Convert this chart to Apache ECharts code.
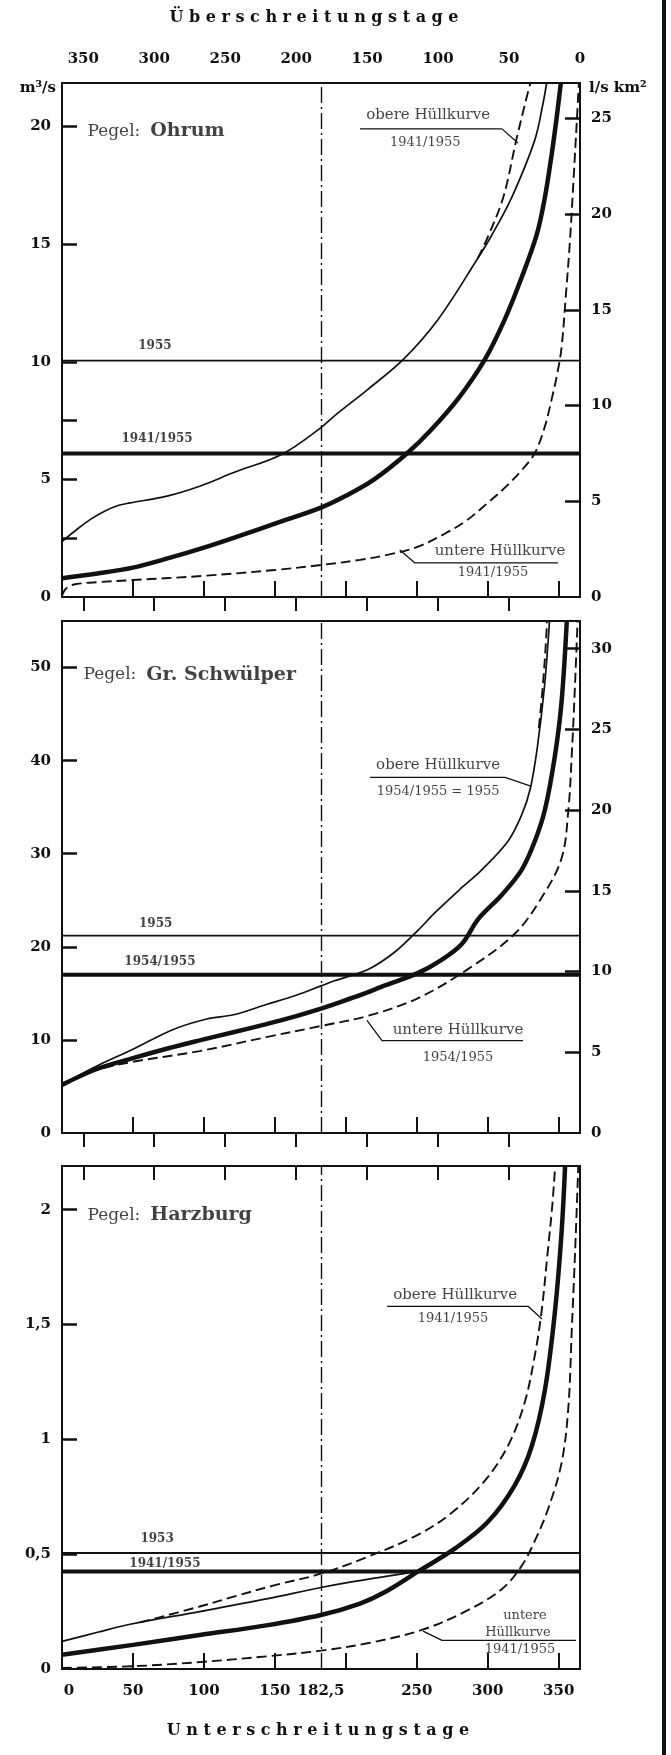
<!DOCTYPE html>
<html>
<head>
<meta charset="utf-8">
<script src="https://cdn.jsdelivr.net/npm/echarts@6/dist/echarts.min.js"></script>
<style>
  html, body { margin: 0; padding: 0; background: #fff; }
  #chart { width: 671px; height: 1755px; }
</style>
</head>
<body>
<div id="chart"></div>
<script>
// Abflussdauerlinien der Oker: Pegel Ohrum, Gr. Schwülper, Harzburg
// x = Unterschreitungstage (0 … 365), y = Abfluss in m³/s

const YEAR_DAYS = 365;
const MEDIAN_DAY = 182.5;
const DAY_TICKS = [50, 100, 150, 200, 250, 300, 350];
const DAY_LABELS_BOTTOM = [0, 50, 100, 150, 182.5, 250, 300, 350];
const DAY_LABELS_TOP = [0, 50, 100, 150, 200, 250, 300, 350];

const stations = ['Ohrum', 'Gr. Schwülper', 'Harzburg'];
const catchmentKm2 = [814, 1734, null];
const yMax = [21.85, 55, 2.19];
const leftTicks = [[2.5, 5, 7.5, 10, 15, 20], [10, 20, 30, 40, 50], [0.5, 1, 1.5, 2]];
const leftLabels = [[0, 5, 10, 15, 20], [0, 10, 20, 30, 40, 50], [0, 0.5, 1, 1.5, 2]];
const rightTicks = [[5, 10, 15, 20, 25], [5, 10, 15, 20, 25, 30], []];
const rightLabels = [[0, 5, 10, 15, 20, 25], [0, 5, 10, 15, 20, 25, 30], []];

// Mittelwasser (MQ): Einzeljahr und Reihe
const mqYearName = ['1955', '1955', '1953'];
const mqYear = [10.05, 21.2, 0.505];
const mqPeriodName = ['1941/1955', '1954/1955', '1941/1955'];
const mqPeriod = [6.1, 17.0, 0.425];

// Dauerlinien [Tag, m³/s]
const ohrumMean = [[0,0.8],[25,1.0],[50,1.25],[75,1.65],[100,2.1],[125,2.6],[150,3.12],[182.5,3.8],[200,4.3],[220,5.0],[243,6.1],[260,7.1],[280,8.5],[298,10.1],[312,11.8],[324,13.6],[334.5,15.4],[340,16.9],[345,18.8],[348.6,20.4],[351.5,21.85]];
const ohrumYear = [[0,2.36],[10,2.85],[20,3.3],[30,3.65],[40,3.9],[48,4.0],[74,4.29],[97,4.71],[121,5.29],[155,6.07],[182.5,7.2],[192,7.7],[216,8.85],[240.5,10.1],[265,11.8],[293,14.4],[303,15.4],[317,17.0],[333,19.4],[339,21.0],[341.5,21.85]];
const ohrumUpper = [[293,14.4],[300,15.3],[311,17.0],[320,19.4],[326,20.9],[330,21.85]];
const ohrumLower = [[0,0.05],[2,0.3],[5,0.45],[10,0.55],[25,0.63],[50,0.72],[100,0.9],[150,1.15],[182.5,1.36],[210,1.58],[230,1.8],[250,2.12],[270,2.7],[285,3.25],[300,4.0],[313,4.7],[324,5.4],[333,6.1],[340,7.2],[345,8.4],[349,9.5],[352,10.6],[355,12.8],[358,15.2],[360.5,17.8],[363,20.5],[364.2,21.85]];

const schwMean = [[0,5.17],[25,6.9],[50,8.04],[75,9.1],[97,9.95],[120,10.8],[144,11.7],[165,12.55],[182.5,13.35],[192,13.85],[210,14.8],[227.6,15.85],[251,17.2],[267.5,18.6],[281.7,20.3],[293.4,23.0],[310,25.6],[324,28.3],[333.3,31.4],[340.4,34.8],[347.4,40.6],[352,46.3],[355.7,55]];
const schwYear = [[0,5.17],[12,6.2],[26,7.3],[50,9.0],[78,11.1],[102,12.25],[121,12.7],[144,13.8],[165,14.8],[182.5,15.8],[192,16.35],[216,17.6],[235,19.5],[251,21.8],[263,23.7],[282,26.4],[296,28.3],[314.5,31.4],[324,34.2],[330,37.0],[335,41.5],[340,48.0],[343.5,55]];
const schwUpper = [[336,43.5],[338.5,47.5],[340.5,51.5],[341.8,55]];
const schwLower = [[0,5.17],[25,6.8],[50,7.65],[97,8.8],[144,10.3],[182.5,11.5],[216,12.6],[251,14.5],[286,17.6],[319,21.4],[338,25.3],[352,29.5],[356.8,34.7],[359.2,40.6],[361.5,48.2],[363.3,55]];

const harzMean = [[0,0.062],[50,0.105],[97,0.148],[144,0.19],[182.5,0.235],[210,0.285],[227.6,0.335],[251,0.425],[277,0.525],[300,0.64],[319,0.80],[331,0.97],[340.4,1.22],[347.4,1.56],[352,1.90],[354.5,2.19]];
const harzYear = [[0,0.12],[25,0.16],[48,0.195],[97,0.25],[144,0.305],[182.5,0.355],[200,0.375],[225,0.40],[251,0.425]];
const harzUpper = [[55,0.203],[97,0.272],[121,0.315],[150,0.365],[182.5,0.415],[216,0.49],[251,0.585],[274.6,0.68],[298,0.82],[314.5,0.975],[326,1.16],[333.3,1.37],[338,1.56],[342,1.80],[345.5,2.02],[347.5,2.19]];
const harzLower = [[0,0.005],[50,0.012],[97,0.03],[144,0.055],[182.5,0.08],[216,0.113],[253.5,0.17],[286,0.256],[310,0.348],[324,0.45],[333.3,0.56],[342.7,0.70],[352.1,0.90],[356.8,1.14],[359.2,1.475],[361.5,1.81],[363.8,2.19]];

const curves = [
  { mean: ohrumMean, year: ohrumYear, upper: ohrumUpper, lower: ohrumLower },
  { mean: schwMean,  year: schwYear,  upper: schwUpper,  lower: schwLower },
  { mean: harzMean,  year: harzYear,  upper: harzUpper,  lower: harzLower }
];

// Beschriftungen der Hüllkurven [Tag, m³/s, Text, Schrift]
const notes = [
  [[258, 20.5, 'obere Hüllkurve', 'big'], [256, 19.3, '1941/1955', 'small'],
   [308.6, 1.96, 'untere Hüllkurve', 'big'], [303.7, 1.02, '1941/1955', 'small']],
  [[265, 39.55, 'obere Hüllkurve', 'big'], [265, 36.7, '1954/1955 = 1955', 'small'],
   [279, 11.06, 'untere Hüllkurve', 'big'], [279, 8.09, '1954/1955', 'small']],
  [[277, 1.629, 'obere Hüllkurve', 'big'], [275.5, 1.524, '1941/1955', 'small'],
   [326.2, 0.2305, 'untere', 'small'], [321.3, 0.160, 'Hüllkurve', 'small'], [322.7, 0.085, '1941/1955', 'small']]
];
// Hinweislinien [Tag, m³/s]
const leaders = [
  [[[210, 19.9], [310, 19.9], [321.3, 19.3]], [[238, 2.0], [248.7, 1.45], [349.5, 1.45]]],
  [[[217, 38.2], [312.2, 38.2], [329.8, 37.3]], [[214.9, 12.1], [225.5, 9.92], [324.8, 9.92]]],
  [[[229, 1.579], [328.4, 1.579], [338.2, 1.524]], [[254.4, 0.165], [267.8, 0.125], [362.2, 0.125]]]
];
// Lage der Pegelnamen und MQ-Beschriftungen
const pegelPos = [[17.6, 19.8], [14.8, 49.2], [17.6, 1.975]];
const mqYearLabelDay = [65.5, 66, 67];
const mqPeriodLabelDay = [67, 69, 72.5];
const mqYearLabelGap = [8, 5, 8];
const mqPeriodLabelGap = [8, 6, 1];

const INK = '#111';
const FONT = '"DejaVu Serif", "Liberation Serif", serif';
const GRID_POS = [{ top: 83, height: 514 }, { top: 621, height: 512 }, { top: 1166, height: 503 }];
const fmt = v => String(v).replace('.', ',');
const spaced = s => Array.from(s).join('\u2008');
const tickFont = { fontFamily: FONT, fontWeight: 'bold', fontSize: 15, color: INK };

const grids = [], xAxes = [], yAxes = [], series = [];
const leftIdx = [];

for (let g = 0; g < 3; g++) {
  grids.push({ left: 62, right: 91, top: GRID_POS[g].top, height: GRID_POS[g].height,
    show: true, borderWidth: 2, borderColor: INK, backgroundColor: 'transparent' });

  // Unterschreitungstage (unten); die Null steht etwas eingerückt
  xAxes.push({ type: 'value', gridIndex: g, position: 'bottom', min: 0, max: YEAR_DAYS,
    axisLine: { show: false }, splitLine: { show: false },
    axisTick: { show: true, inside: true, length: 16, customValues: DAY_TICKS, lineStyle: { color: INK, width: 2 } },
    axisLabel: { show: g === 2, customValues: DAY_LABELS_BOTTOM, margin: 15, ...tickFont,
      formatter: v => v === 0 ? '{z|0}' : fmt(v),
      rich: { z: { ...tickFont, padding: [0, 0, 0, 14] } } } });
  // Überschreitungstage (oben, gegenläufig)
  xAxes.push({ type: 'value', gridIndex: g, position: 'top', inverse: true, min: 0, max: YEAR_DAYS,
    axisLine: { show: false }, splitLine: { show: false },
    axisTick: { show: true, inside: true, length: 14, customValues: DAY_TICKS, lineStyle: { color: INK, width: 2 } },
    axisLabel: { show: g === 0, customValues: DAY_LABELS_TOP, formatter: fmt, margin: 16, ...tickFont } });

  leftIdx.push(yAxes.length);
  yAxes.push({ type: 'value', gridIndex: g, position: 'left', min: 0, max: yMax[g],
    axisLine: { show: false }, splitLine: { show: false },
    axisTick: { show: true, inside: true, length: 15, customValues: leftTicks[g], lineStyle: { color: INK, width: 2.5 } },
    axisLabel: { customValues: leftLabels[g], formatter: fmt, margin: 11, ...tickFont } });
  if (catchmentKm2[g]) {
    // Abflussspende l/(s·km²) = 1000 · Q / A
    yAxes.push({ type: 'value', gridIndex: g, position: 'right', min: 0, max: yMax[g] * 1000 / catchmentKm2[g],
      axisLine: { show: false }, splitLine: { show: false },
      axisTick: { show: true, inside: true, length: 15, customValues: rightTicks[g], lineStyle: { color: INK, width: 2.5 } },
      axisLabel: { customValues: rightLabels[g], formatter: fmt, margin: 11, ...tickFont } });
  }
}

const STYLE = {
  mean:    { width: 4.5, type: 'solid' },
  year:    { width: 1.7, type: 'solid' },
  env:     { width: 1.9, type: [10, 5] },
  mqYear:  { width: 1.8, type: 'solid' },
  mqPer:   { width: 4,   type: 'solid' },
  leader:  { width: 1.3, type: 'solid' }
};

function line(g, data, st, smooth, z, extra) {
  return Object.assign({
    type: 'line', xAxisIndex: 2 * g, yAxisIndex: leftIdx[g], data,
    symbol: 'none', showSymbol: false, silent: true, animation: false, clip: true,
    smooth: smooth ? 0.35 : false,
    lineStyle: { color: INK, width: st.width, type: st.type, cap: 'butt' }, z
  }, extra || {});
}

const noteFont = {
  big:   { fontFamily: FONT, fontSize: 15, fontWeight: 'normal', color: INK },
  small: { fontFamily: FONT, fontSize: 13, fontWeight: 'normal', color: INK }
};

for (let g = 0; g < 3; g++) {
  const c = curves[g];
  series.push(line(g, [[0, mqYear[g]], [YEAR_DAYS, mqYear[g]]], STYLE.mqYear, false, 2));
  series.push(line(g, [[0, mqPeriod[g]], [YEAR_DAYS, mqPeriod[g]]], STYLE.mqPer, false, 2, {
    markLine: { silent: true, animation: false, symbol: ['none', 'none'], label: { show: false },
      lineStyle: { color: INK, width: 1.4, type: [16, 4, 2, 4] }, data: [{ xAxis: MEDIAN_DAY }] }
  }));
  series.push(line(g, c.lower, STYLE.env, true, 3));
  if (c.upper) series.push(line(g, c.upper, STYLE.env, true, 3));
  series.push(line(g, c.year, STYLE.year, true, 4));
  series.push(line(g, c.mean, STYLE.mean, true, 5));
  leaders[g].forEach(pts => series.push(line(g, pts, STYLE.leader, false, 6)));

  const items = [];
  items.push({ value: pegelPos[g], label: { show: true, position: 'right', distance: 0,
    backgroundColor: '#fff',
    formatter: '{a|Pegel:}{b|' + stations[g] + '}',
    rich: { a: { fontFamily: FONT, fontSize: 17, color: INK },
            b: { fontFamily: FONT, fontSize: 19, fontWeight: 'bold', color: INK, padding: [0, 0, 0, 10] } } } });
  items.push({ value: [mqYearLabelDay[g], mqYear[g]], label: { show: true, position: 'top', distance: mqYearLabelGap[g],
    formatter: mqYearName[g], fontFamily: FONT, fontSize: 12, fontWeight: 'bold', color: INK } });
  items.push({ value: [mqPeriodLabelDay[g], mqPeriod[g]], label: { show: true, position: 'top', distance: mqPeriodLabelGap[g],
    formatter: mqPeriodName[g], fontFamily: FONT, fontSize: 12, fontWeight: 'bold', color: INK } });
  notes[g].forEach(n => items.push({ value: [n[0], n[1]], label: Object.assign({ show: true, position: 'inside', formatter: n[2] }, noteFont[n[3]]) }));
  series.push({ type: 'scatter', xAxisIndex: 2 * g, yAxisIndex: leftIdx[g], data: items,
    symbol: 'circle', symbolSize: 1, itemStyle: { color: 'rgba(0,0,0,0)' },
    silent: true, animation: false, z: 20 });
}

const titleFont = 'bold 16px "DejaVu Serif", serif';
const unitFont = 'bold 15px "DejaVu Serif", serif';
const graphic = [
  { type: 'text', x: 314, y: 18, silent: true, style: { text: spaced('Überschreitungstage'), font: titleFont, fill: INK,
    align: 'center', verticalAlign: 'middle', textAlign: 'center', textVerticalAlign: 'middle' } },
  { type: 'text', x: 318, y: 1731, silent: true, style: { text: spaced('Unterschreitungstage'), font: titleFont, fill: INK,
    align: 'center', verticalAlign: 'middle', textAlign: 'center', textVerticalAlign: 'middle' } },
  { type: 'text', x: 56, y: 88, silent: true, style: { text: 'm³/s', font: unitFont, fill: INK,
    align: 'right', verticalAlign: 'middle', textAlign: 'right', textVerticalAlign: 'middle' } },
  { type: 'text', x: 589, y: 88, silent: true, style: { text: 'l/s km²', font: unitFont, fill: INK,
    align: 'left', verticalAlign: 'middle', textAlign: 'left', textVerticalAlign: 'middle' } },
  { type: 'rect', silent: true, shape: { x: 662, y: 0, width: 4, height: 1755 }, style: { fill: INK } }
];

const chart = echarts.init(document.getElementById('chart'), null, { renderer: 'canvas', width: 671, height: 1755 });
chart.setOption({
  animation: false,
  backgroundColor: '#fff',
  textStyle: { fontFamily: FONT },
  grid: grids,
  xAxis: xAxes,
  yAxis: yAxes,
  series,
  graphic
});
</script>
</body>
</html>
